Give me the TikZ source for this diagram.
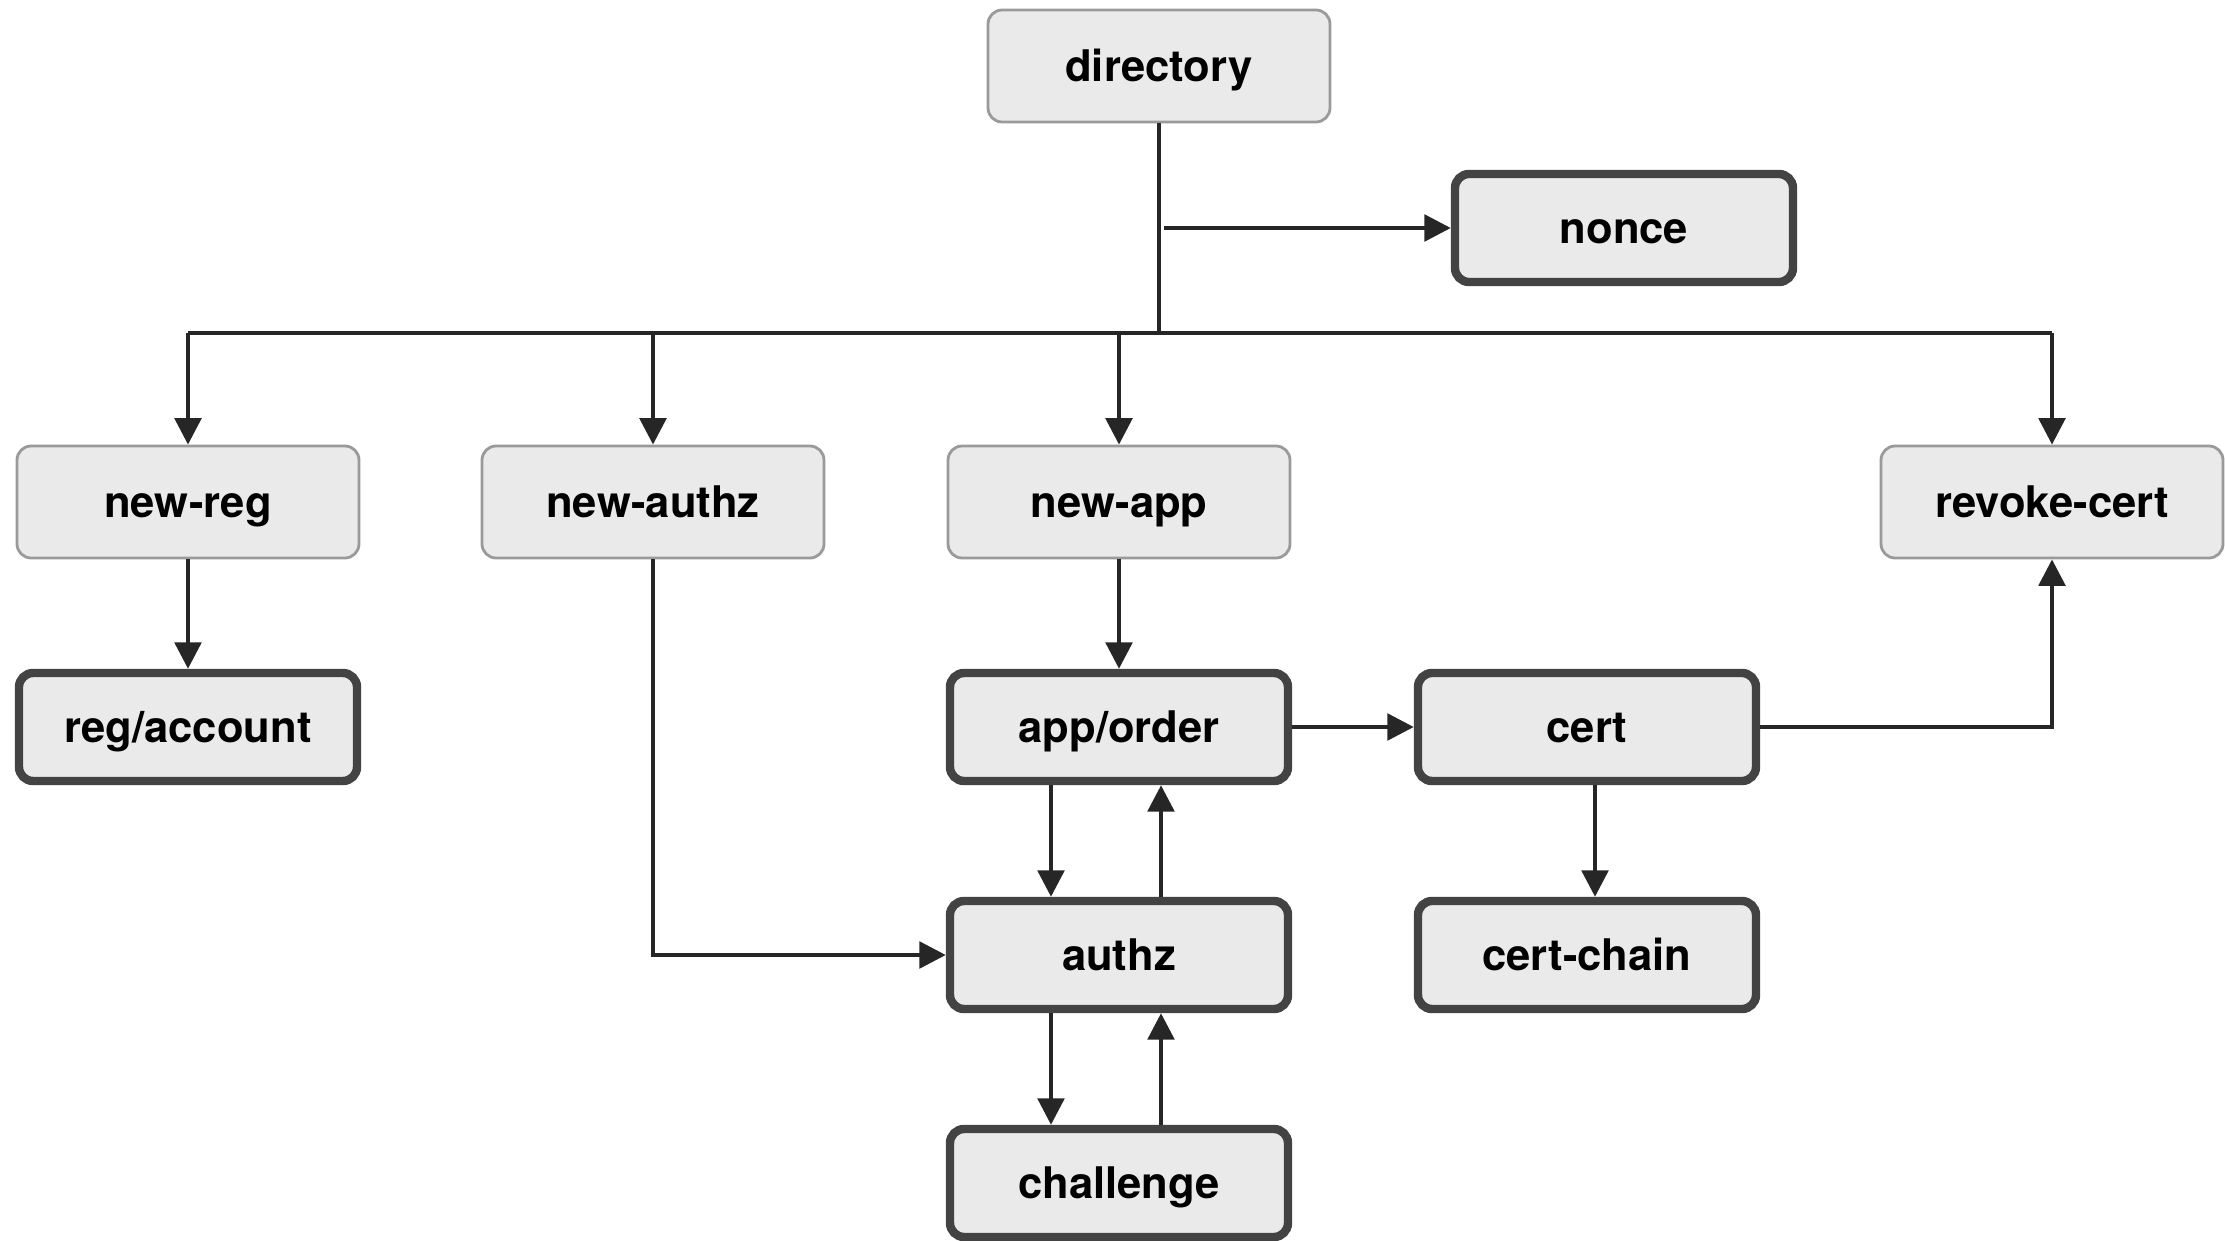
\documentclass[tikz,border=0pt]{standalone}
\usepackage{fontspec}
\setmainfont{TeX Gyre Heros}
\usetikzlibrary{positioning}
\usetikzlibrary{arrows.meta}
\definecolor{boxfill}{HTML}{EAEAEA}
\definecolor{thinline}{HTML}{9A9A9A}
\definecolor{thickline}{HTML}{434343}
\definecolor{wire}{HTML}{262626}
\tikzset{
    endpoint/.style = {rectangle, rounded corners=4pt, draw=thinline, line width=0.8pt, fill=boxfill,
                       minimum width=3.42cm, minimum height=1.12cm, inner sep=0pt,
                       text height=10.2pt, text depth=1.2pt,
                       font=\fontsize{12.4}{14}\selectfont\bfseries},
    resource/.style = {endpoint, draw=thickline, line width=2.4pt, minimum width=3.38cm, minimum height=1.08cm},
    wiren/.style = {line width=1.2pt, draw=wire},
    edgen/.style = {wiren, -{Triangle[length=7.5pt,width=7.5pt]}},
}

\begin{document}
\begin{tikzpicture}
\useasboundingbox (0,0) rectangle (22.25,12.4);
\node[endpoint] at (11.59, 11.74) (directory) {directory};
\node[resource] at (16.24, 10.12) (nonce) {nonce};
\node[endpoint] at (1.88, 7.38) (newreg) {new-reg};
\node[endpoint] at (6.53, 7.38) (newauthz) {new-authz};
\node[endpoint] at (11.19, 7.38) (newapp) {new-app};
\node[endpoint] at (20.52, 7.38) (revoke) {revoke-cert};
\node[resource] at (1.88, 5.13) (account) {reg/account};
\node[resource] at (11.19, 5.13) (order) {app/order};
\node[resource] at (15.87, 5.13) (cert) {cert};
\node[resource] at (11.19, 2.85) (authz) {authz};
\node[resource] at (15.87, 2.85) (chain) {cert-chain};
\node[resource] at (11.19, 0.57) (challenge) {challenge};
%
\coordinate (bus) at (11.59, 9.07);
\coordinate (busl) at (1.88, 9.07);
\coordinate (busr) at (20.52, 9.07);
\coordinate (tap) at (11.64, 10.12);
\draw[wiren] (directory) -- (bus);
\draw[wiren] (busl) -- (busr);
\draw[edgen] (tap) -- (nonce);
\draw[edgen] (busl) -- (newreg);
\draw[edgen] (newauthz |- bus) -- (newauthz);
\draw[edgen] (newapp |- bus) -- (newapp);
\draw[edgen] (busr) -- (revoke);
%
\draw[edgen] (newreg) -- (account);
\draw[edgen] (newapp) -- (order);
\draw[edgen] (newauthz) |- (authz);
\draw[edgen] (order) -- (cert);
\draw[edgen] (cert) -| (revoke);
\draw[edgen] ([xshift=0.08cm]cert.south) -- ([xshift=0.08cm]chain.north);
\draw[edgen] ([xshift=-0.68cm]order.south) -- ([xshift=-0.68cm]authz.north);
\draw[edgen] ([xshift=0.42cm]authz.north) -- ([xshift=0.42cm]order.south);
\draw[edgen] ([xshift=-0.68cm]authz.south) -- ([xshift=-0.68cm]challenge.north);
\draw[edgen] ([xshift=0.42cm]challenge.north) -- ([xshift=0.42cm]authz.south);
\end{tikzpicture}
\end{document}
